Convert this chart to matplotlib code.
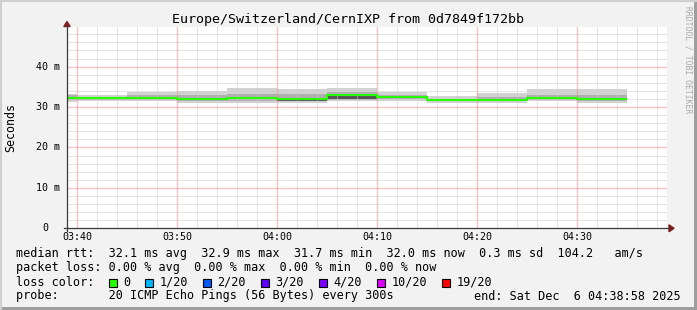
import matplotlib
matplotlib.use("Agg")
import matplotlib.pyplot as plt
from matplotlib.patches import Rectangle, Polygon
from matplotlib.lines import Line2D

W, H = 697, 310

# ---- data ----
step_start = ["03:35", "03:40", "03:45", "03:50", "03:55", "04:00",
              "04:05", "04:10", "04:15", "04:20", "04:25", "04:30"]
median_ms = [32.3, 32.2, 32.2, 32.1, 32.2, 32.0, 32.9, 32.6, 31.7, 31.7, 32.3, 32.0]
smoke_hi = [33.3, 32.9, 33.7, 34.0, 34.8, 34.4, 34.7, 33.7, 32.7, 33.5, 34.5, 34.5]
smoke_lo = [31.3, 31.5, 31.5, 31.1, 31.1, 31.1, 31.4, 31.6, 31.1, 31.1, 31.4, 31.1]
band_hi = [32.9, 32.6, 32.9, 33.0, 33.2, 33.3, 33.6, 33.1, 32.1, 32.5, 33.0, 32.9]
band_lo = [31.7, 31.8, 31.8, 31.6, 31.6, 31.4, 31.8, 31.9, 31.4, 31.4, 31.8, 31.5]
core_lo = [31.9, 31.9, 31.9, 31.8, 31.9, 31.5, 32.1, 32.2, 31.5, 31.5, 32.0, 31.7]

y_majors = [0, 10, 20, 30, 40]
x_majors = ["03:40", "03:50", "04:00", "04:10", "04:20", "04:30"]

rtt_stats = {"avg": 32.1, "max": 32.9, "min": 31.7, "now": 32.0}
rtt_sd = 0.3
rtt_ams = 104.2
loss_stats = {"avg": 0.00, "max": 0.00, "min": 0.00, "now": 0.00}
loss_labels = ["0", "1/20", "2/20", "3/20", "4/20", "10/20", "19/20"]
loss_colors = ["#26ff00", "#00b8ff", "#0059ff", "#5e00ff", "#7e00ff", "#dd00ff", "#ff0000"]

title = "Europe/Switzerland/CernIXP from 0d7849f172bb"
probe = "20 ICMP Echo Pings (56 Bytes) every 300s"
end_str = "end: Sat Dec  6 04:38:58 2025"


def minutes(s):
    h, m = s.split(":")
    return int(h) * 60 + int(m) - 180


def fx(x):
    return x / W


def fy(y):
    return 1 - y / H


edges = [minutes(s) for s in step_start] + [minutes(step_start[-1]) + 5]
t0 = 38 + 58 / 60.0

MONO = "DejaVu Sans Mono"
plt.rcParams["font.family"] = MONO

fig = plt.figure(figsize=(W / 100, H / 100), dpi=100, facecolor="#f2f2f2")

left, right, top, bottom = 67, 667, 27, 228.3
ax = fig.add_axes([fx(left), fy(bottom), (right - left) / W, (bottom - top) / H])
ax.set_facecolor("white")
ax.set_xlim(t0, t0 + 60)
ax.set_ylim(0, 49.8)
for s in ax.spines.values():
    s.set_visible(False)
ax.set_xticks([])
ax.set_yticks([])

# smoke
ax.stairs(smoke_hi, edges, baseline=smoke_lo, fill=True, color="#d2d2d2", zorder=1)
ax.stairs(band_hi, edges, baseline=band_lo, fill=True, color="#b0b0b0", zorder=1.1)
ax.stairs(median_ms, edges, baseline=core_lo, fill=True, color="#555555", zorder=1.2)

# grid: minor every 2 units, major (reddish) every 10
minor_col, major_col = "#cdcdcd", "#f08c8c"
for m in range(40, 99, 2):
    if m % 10:
        ax.axvline(m, color=minor_col, lw=0.72, ls=(0, (1, 1)), zorder=2)
for v in range(2, 49, 2):
    if v % 10:
        ax.axhline(v, color=minor_col, lw=0.72, ls=(0, (1, 1)), zorder=2)
for m in range(40, 99, 10):
    ax.axvline(m, color=major_col, lw=1.0, ls=(0, (0.72, 0.72)), zorder=2.1)
for v in range(10, 49, 10):
    ax.axhline(v, color=major_col, lw=1.0, ls=(0, (0.72, 0.72)), zorder=2.1)

# median line
ax.stairs(median_ms, edges, baseline=None, color=loss_colors[0], lw=1.5, zorder=3)

# tick labels
ytr = ax.get_yaxis_transform()
for v in y_majors:
    if v == 0:
        ax.text(-19 / 600, v, "0", transform=ytr, ha="right", va="center",
                fontsize=7.2, clip_on=False)
    else:
        ax.text(-7 / 600, v, f"{v} m", transform=ytr, ha="right", va="center",
                fontsize=7.2, clip_on=False)
xtr = ax.get_xaxis_transform()
for s in x_majors:
    ax.text(minutes(s), -8.7 / 201.3, s, transform=xtr, ha="center", va="center",
            fontsize=7.2, clip_on=False)

# axes + arrows
axis_col = "#3a3a3a"
arrow_col = "#7f1f1f"
fig.add_artist(Line2D([fx(64), fx(669)], [fy(bottom), fy(bottom)], color=axis_col, lw=0.9))
fig.add_artist(Line2D([fx(left), fx(left)], [fy(231), fy(26)], color=axis_col, lw=0.9))
fig.add_artist(Polygon([(fx(669), fy(224.8)), (fx(674), fy(bottom)), (fx(669), fy(231.8))],
                       closed=True, color=arrow_col))
fig.add_artist(Polygon([(fx(63.8), fy(26.5)), (fx(left), fy(21.5)), (fx(70.2), fy(26.5))],
                       closed=True, color=arrow_col))

# title / axis label / watermark
fig.text(fx(348), fy(20), title, ha="center", va="center", fontsize=9.6)
fig.text(fx(11), fy(127.5), "Seconds", rotation=90, ha="center", va="center", fontsize=8.4)
fig.text(fx(688), fy(60), "RRDTOOL / TOBI OETIKER", rotation=270, ha="center",
         va="center", fontsize=5.8, color="#a8a8a8")

# legend
fs = 8.5
cw = 7.12
x0 = 16
row1 = (f"median rtt:  {rtt_stats['avg']:.1f} ms avg  {rtt_stats['max']:.1f} ms max  "
        f"{rtt_stats['min']:.1f} ms min  {rtt_stats['now']:.1f} ms now  "
        f"{rtt_sd:.1f} ms sd  {rtt_ams:.1f}   am/s")
row2 = (f"packet loss: {loss_stats['avg']:.2f} % avg  {loss_stats['max']:.2f} % max  "
        f"{loss_stats['min']:.2f} % min  {loss_stats['now']:.2f} % now")
fig.text(fx(x0), fy(254), row1, ha="left", va="center", fontsize=fs)
fig.text(fx(x0), fy(268), row2, ha="left", va="center", fontsize=fs)
fig.text(fx(x0), fy(282), "loss color:", ha="left", va="center", fontsize=fs)
cursor = 13
for i, (lab, col) in enumerate(zip(loss_labels, loss_colors)):
    bx = x0 + cursor * cw + i * 1.0
    fig.add_artist(Rectangle((fx(bx), fy(287)), 8 / W, 8 / H, facecolor=col,
                             edgecolor="black", lw=0.8))
    fig.text(fx(bx + 2 * cw), fy(282), lab, ha="left", va="center", fontsize=fs)
    cursor += 2 + len(lab) + 2
fig.text(fx(x0), fy(296), "probe:       " + probe, ha="left", va="center", fontsize=fs)
fig.text(fx(681), fy(296), end_str, ha="right", va="center", fontsize=fs)

# frame shading
fig.add_artist(Line2D([0, 1], [fy(0.5), fy(0.5)], color="#cfcfcf", lw=1.5))
fig.add_artist(Line2D([fx(0.5), fx(0.5)], [0, 1], color="#cfcfcf", lw=1.5))
fig.add_artist(Rectangle((fx(694), 0), 3 / W, 1, color="#9e9e9e", lw=0))
fig.add_artist(Rectangle((0, 0), 1, 3 / H, color="#9e9e9e", lw=0))

fig.savefig("out.png", dpi=100, facecolor=fig.get_facecolor())
